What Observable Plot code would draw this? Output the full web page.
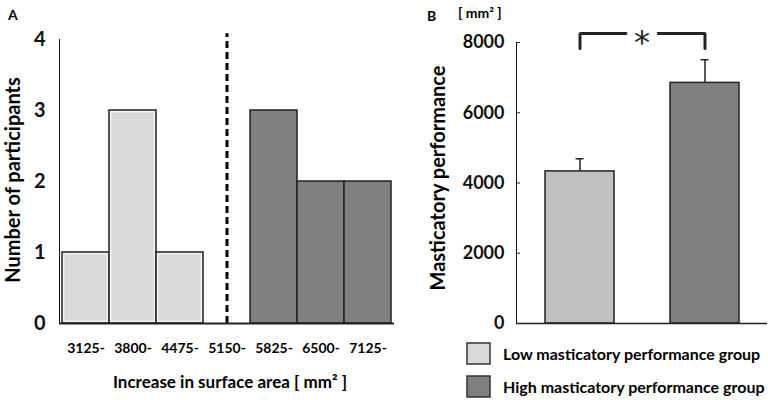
<!DOCTYPE html>
<html><head><meta charset="utf-8">
<script src="https://cdn.jsdelivr.net/npm/d3@7"></script>
<script src="https://cdn.jsdelivr.net/npm/@observablehq/plot@0.6"></script>
<style>
body{margin:0;background:#fff;}
#wrap{position:relative;width:768px;height:400px;overflow:hidden;background:#fff}
#wrap svg{position:absolute;top:0}
</style></head><body>
<div id="wrap"></div>
<script>
// ---- Panel A data ----
const bins = ["3125-","3800-","4475-","5150-","5825-","6500-","7125-"];
const counts = [1,3,1,0,3,2,2];
const binGroup = ["Low","Low","Low","None","High","High","High"];
const countTicks = [0,1,2,3,4];
const cutoffBin = ["5150-"];
const cutoffTop = 4.08;

// ---- Panel B data ----
const groups = ["Low","High"];
const groupLabels = ["Low masticatory performance group","High masticatory performance group"];
const means = [4330, 6850];
const errs = [360, 660];
const perfTicks = [0,2000,4000,6000,8000];
const bracketX = ["Low","Low","High","High"];
const bracketY = [7830, 8256, 8256, 7830];
const starY = 8256;

const FONT = "Lato, 'Open Sans', sans-serif";
const colA = {Low:"#d9d9d9", High:"#808080", None:"none"};
const colB = {Low:"#c0c0c0", High:"#808080"};
const legendCol = ["#d9d9d9","#808080"];

const histData = bins.map((b,i)=>({bin:b, count:counts[i], group:binGroup[i]}));
const barData = groups.map((g,i)=>({group:g, mean:means[i], upper:means[i]+errs[i]}));
const bracket = bracketX.map((x,i)=>({x, y:bracketY[i]}));

const wrap = document.getElementById("wrap");

const plotA = Plot.plot({
  width: 400, height: 400,
  marginLeft: 59, marginRight: 6, marginTop: 39, marginBottom: 77,
  style: {fontFamily: FONT, fontWeight: "bold", fontSize: "20px", background: "transparent", overflow: "visible", color: "#111"},
  x: {domain: bins, padding: 0, axis: null},
  y: {domain: [0,4], ticks: countTicks, tickSize: 0, tickPadding: 14, line: true, label: null, tickFormat: d3.format("d")},
  marks: [
    Plot.axisX({tickSize: 0, tickPadding: 20, fontSize: 14, label: null, fill: "#000"}),
    Plot.barY(histData.filter(d=>d.count>0), {x:"bin", y:"count", fill:d=>colA[d.group], stroke:"#222", strokeWidth:1.5}),
    Plot.barY(histData.filter(d=>d.group==="Low"), {x:"bin", y:"count", fill:"none", stroke:"#fff", strokeWidth:1, inset:1.8}),
    Plot.ruleX(cutoffBin, {y1:0, y2:cutoffTop, stroke:"#000", strokeWidth:3, strokeDasharray:"7,4"}),
    Plot.ruleY([0], {stroke:"#222", strokeWidth:2})
  ]
});
plotA.style.left = "0px";
wrap.appendChild(plotA);

const plotB = Plot.plot({
  width: 368, height: 400,
  marginLeft: 116, marginRight: 1, marginTop: 42, marginBottom: 77,
  style: {fontFamily: FONT, fontWeight: "bold", fontSize: "18px", background: "transparent", overflow: "visible", color: "#111"},
  x: {domain: groups, paddingInner: 0.45, paddingOuter: 0.225, axis: null},
  y: {domain: [0,8000], ticks: perfTicks, tickSize: 0, tickPadding: 12, line: true, label: null, tickFormat: d3.format("d")},
  marks: [
    Plot.tickY(perfTicks, {y: d=>d, insetRight: 247, stroke: "#222", strokeWidth: 1}),
    Plot.ruleX(barData, {x:"group", y1:"mean", y2:"upper", stroke:"#222", strokeWidth:1.5}),
    Plot.tickY(barData, {x:"group", y:"upper", insetLeft:30.5, insetRight:30.5, stroke:"#222", strokeWidth:1.5}),
    Plot.barY(barData, {x:"group", y:"mean", fill:d=>colB[d.group], stroke:"#222", strokeWidth:1.5}),
    Plot.ruleY([0], {stroke:"#222", strokeWidth:1.5}),
    Plot.line(bracket, {x:"x", y:"y", stroke:"#222", strokeWidth:3, strokeLinejoin:"miter", curve:"linear"}),
    Plot.text(["*"], {frameAnchor:"middle", y: starY, dy: 9, fontSize: 32, fontWeight: "normal", fontFamily: "DejaVu Sans", fill:"#222", stroke:"#fff", strokeWidth:16})
  ]
});
plotB.style.left = "400px";
wrap.appendChild(plotB);

// ---- labels & legend overlay ----
const ov = d3.select(wrap).append("svg")
  .attr("width", 768).attr("height", 400)
  .style("left", "0px").style("pointer-events", "none")
  .attr("font-family", FONT).attr("font-weight", "bold");

ov.append("text").attr("x", 8).attr("y", 20).attr("font-size", 14).text("A");
ov.append("text").attr("x", 427).attr("y", 21).attr("font-size", 14).text("B");
ov.append("text").attr("x", 458).attr("y", 18).attr("font-size", 14).text("[ mm² ]");

ov.append("text").attr("transform", "translate(20,180) rotate(-90)")
  .attr("text-anchor", "middle").attr("font-size", 20).text("Number of participants");
ov.append("text").attr("transform", "translate(445,178) rotate(-90)")
  .attr("text-anchor", "middle").attr("font-size", 20).text("Masticatory performance");
ov.append("text").attr("x", 230).attr("y", 388).attr("text-anchor", "middle")
  .attr("font-size", 17).text("Increase in surface area [ mm² ]");

const lg = ov.selectAll("g.lg").data(groupLabels).join("g")
  .attr("transform", (d,i)=>`translate(467,${343 + i*33})`);
lg.append("rect").attr("width", 23).attr("height", 21)
  .attr("fill", (d,i)=>legendCol[i]).attr("stroke", "#333").attr("stroke-width", 1.5);
lg.append("text").attr("x", 36).attr("y", 11).attr("dy", "0.35em")
  .attr("font-size", 16).text(d=>d);
</script>
</body></html>
